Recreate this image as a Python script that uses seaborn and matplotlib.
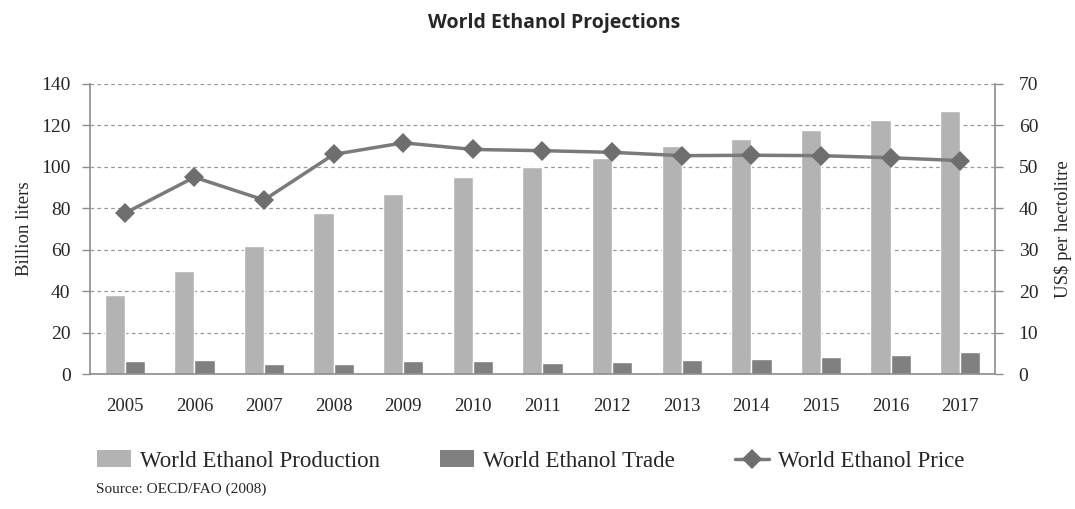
import numpy as np
import pandas as pd
import matplotlib
matplotlib.use('Agg')
import matplotlib.pyplot as plt
import seaborn as sns
from matplotlib.patches import Patch
from matplotlib.lines import Line2D

years = ['2005', '2006', '2007', '2008', '2009', '2010', '2011',
         '2012', '2013', '2014', '2015', '2016', '2017']
production = [38, 49.5, 62, 77.5, 87, 95, 100, 104.5, 110, 113.5, 118, 122.5, 127]
trade = [6.2, 6.8, 4.9, 4.9, 6.2, 6.2, 5.2, 5.6, 6.6, 7.1, 8.2, 9.0, 10.5]
price = [38.8, 47.5, 42.0, 53.0, 55.8, 54.2, 53.9, 53.5, 52.7, 52.8, 52.7, 52.2, 51.5]

series_names = ['World Ethanol Production', 'World Ethanol Trade']
price_name = 'World Ethanol Price'

df = pd.DataFrame({
    'year': years * 2,
    'value': production + trade,
    'series': [series_names[0]] * len(years) + [series_names[1]] * len(years),
})

sns.set_style('white')
plt.rcParams['font.family'] = ['Liberation Serif', 'DejaVu Serif']

c_prod = '#b3b3b3'
c_trade = '#808080'
c_line = '#7a7a7a'
c_axis = '#8c8c8c'

fig = plt.figure(figsize=(10.75, 5.09), dpi=100)
ax = fig.add_axes([0.0837, 0.2652, 0.8419, 0.5698])

sns.barplot(data=df, x='year', y='value', hue='series', order=years,
            hue_order=series_names, palette=[c_prod, c_trade],
            width=0.58, saturation=1, legend=False, ax=ax)

ax.set_ylim(0, 140)
ax.set_yticks(range(0, 141, 20))
ax.set_xlim(-0.5, len(years) - 0.5)
ax.yaxis.grid(True, linestyle=(0, (3, 2.5)), color='#9a9a9a', linewidth=0.9)
ax.set_axisbelow(True)
ax.set_xlabel('')
ax.set_ylabel('Billion liters', fontsize=13.5, labelpad=6)
ax.tick_params(axis='y', labelsize=14, length=6, width=1, color=c_axis,
               left=True, pad=8)
ax.tick_params(axis='x', labelsize=13.5, length=0, pad=17)
# tick marks between categories
ax.set_xticks(np.arange(-0.5, len(years), 1), minor=True)
ax.tick_params(axis='x', which='minor', length=5, color=c_axis)
for s in ['top', 'right']:
    ax.spines[s].set_visible(False)
for s in ['left', 'bottom']:
    ax.spines[s].set_color(c_axis)
    ax.spines[s].set_linewidth(1.2)

ax2 = ax.twinx()
sns.lineplot(x=np.arange(len(years)), y=price, ax=ax2, color=c_line,
             linewidth=2.5, marker='D', markersize=10, markeredgewidth=0,
             markerfacecolor='#6e6e6e')
ax2.set_ylim(0, 70)
ax2.set_yticks(range(0, 71, 10))
ax2.set_xlim(-0.5, len(years) - 0.5)
ax2.set_ylabel('US$ per hectolitre', fontsize=13.5, labelpad=11)
ax2.tick_params(axis='y', labelsize=14, length=6, width=1, color=c_axis,
                right=True, pad=11)
for s in ['top', 'left', 'bottom']:
    ax2.spines[s].set_visible(False)
ax2.spines['right'].set_color(c_axis)
ax2.spines['right'].set_linewidth(1.2)

fig.text(0.515, 0.955, 'World Ethanol Projections', ha='center', va='center',
         fontsize=14, fontweight='bold', family=['Open Sans', 'DejaVu Sans'])

handles = [
    Patch(facecolor=c_prod, edgecolor='none'),
    Patch(facecolor=c_trade, edgecolor='none'),
    Line2D([0], [0], color=c_line, linewidth=2.5, marker='D', markersize=10,
           markerfacecolor='#6e6e6e', markeredgewidth=0),
]
fig.legend(handles, series_names + [price_name], loc='center left',
           bbox_to_anchor=(0.0707, 0.094), ncol=3, frameon=False,
           fontsize=16.5, handlelength=1.5, handleheight=0.75,
           handletextpad=0.4, columnspacing=2.6)

fig.text(0.089, 0.039, 'Source: OECD/FAO (2008)', ha='left', va='center',
         fontsize=11)

fig.savefig('out.png', dpi=100)
